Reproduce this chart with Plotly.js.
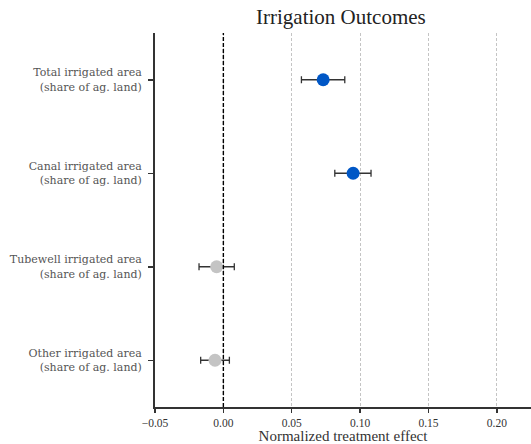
<!DOCTYPE html>
<html>
<head>
<meta charset="utf-8">
<script src="https://cdn.plot.ly/plotly-3.0.1.min.js"></script>
<style>html,body{margin:0;padding:0;background:#fff;}#chart{width:531px;height:444px;}</style>
</head>
<body>
<div id="chart"></div>
<script>
var categories = [
  "Total irrigated area<br>(share of ag. land)",
  "Canal irrigated area<br>(share of ag. land)",
  "Tubewell irrigated area<br>(share of ag. land)",
  "Other irrigated area<br>(share of ag. land)"
];
var effects = [0.073, 0.0949, -0.0049, -0.0061];
var ciLow = [0.0571, 0.0815, -0.0178, -0.0166];
var ciHigh = [0.0888, 0.108, 0.008, 0.0044];
var significant = [true, true, false, false];
var xTickVals = [-0.05, 0, 0.05, 0.10, 0.15, 0.20];
var xTickText = ["\u22120.05", "0.00", "0.05", "0.10", "0.15", "0.20"];

var colors = significant.map(function(s){ return s ? "#0057c6" : "#c4c4c4"; });
var plus = effects.map(function(v,i){ return ciHigh[i]-v; });
var minus = effects.map(function(v,i){ return v-ciLow[i]; });

var trace = {
  type: "scatter",
  mode: "markers",
  x: effects,
  y: [0,1,2,3],
  marker: {size: 13, color: colors, line: {width: 0}},
  error_x: {type: "data", symmetric: false, array: plus, arrayminus: minus,
            color: "#333", thickness: 1.3, width: 3.5},
  hoverinfo: "x+y",
  showlegend: false
};

var serif = "Liberation Serif, DejaVu Serif, serif";
var serif2 = "DejaVu Serif, Liberation Serif, serif";
var layout = {
  width: 531, height: 444,
  margin: {l: 155, r: 0, t: 33, b: 37, pad: 0},
  paper_bgcolor: "#fff", plot_bgcolor: "#fff",
  font: {family: serif, color: "#333"},
  title: {text: "Irrigation Outcomes", font: {family: serif, size: 21, color: "#222"},
          x: 0.642, xanchor: "center", y: 0.962, yanchor: "middle"},
  xaxis: {
    range: [-0.05, 0.225],
    tickvals: xTickVals, ticktext: xTickText,
    showgrid: true, gridcolor: "#c4c4c4", griddash: "3px,2px", gridwidth: 1,
    zeroline: false,
    showline: true, linecolor: "#333", linewidth: 2,
    ticks: "outside", ticklen: 4, tickwidth: 1.5, tickcolor: "#333",
    tickfont: {family: serif, size: 11.5, color: "#333"},
    title: {text: "Normalized treatment effect", font: {family: serif, size: 15, color: "#333"}, standoff: 3}
  },
  yaxis: {
    range: [3.5, -0.5],
    tickvals: [0,1,2,3], ticktext: categories,
    showgrid: false, zeroline: false,
    showline: true, linecolor: "#333", linewidth: 2,
    ticks: "outside", ticklen: 5, tickwidth: 1.5, tickcolor: "#333",
    tickfont: {family: serif2, size: 11, color: "#555"},
    ticklabelstandoff: 4
  },
  shapes: [{type: "line", xref: "x", yref: "paper", x0: 0, x1: 0, y0: 0, y1: 1,
            line: {color: "#000", width: 1.4, dash: "4px,2px"}, layer: "above"}]
};

Plotly.newPlot("chart", [trace], layout, {displayModeBar: false, staticPlot: true});
</script>
</body>
</html>
